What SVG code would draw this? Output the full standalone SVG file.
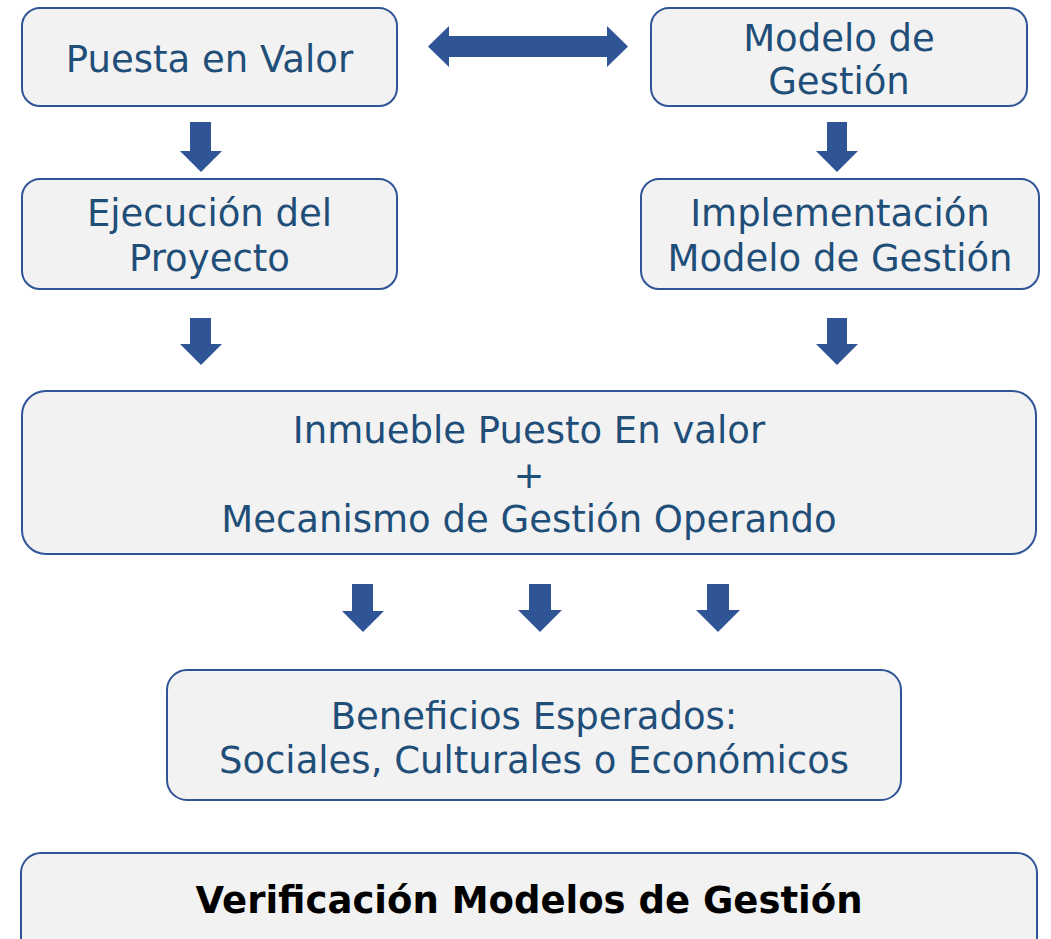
<svg xmlns="http://www.w3.org/2000/svg" width="1051" height="939" viewBox="0 0 1051 939">
<style>
.box{fill:#f2f2f2;stroke:#2f5597;stroke-width:2}
.t{font-family:"DejaVu Sans",Verdana,sans-serif;font-size:37px;fill:#1f4e79;text-anchor:middle}
.b{font-family:"DejaVu Sans",Verdana,sans-serif;font-size:37px;font-weight:bold;fill:#000;text-anchor:middle}
.arr{fill:#2f5597}
</style>
<rect width="1051" height="939" fill="#fff"/>
<g id="puesta-en-valor">
<rect class="box" x="22" y="8" width="375" height="98" rx="18"/>
<text class="t" x="209.5" y="72">Puesta en Valor</text>
</g>
<g id="modelo-de-gestion">
<rect class="box" x="651" y="8" width="376" height="98" rx="18"/>
<text class="t" x="839" y="51">Modelo de</text>
<text class="t" x="839" y="94">Gestión</text>
</g>
<g id="ejecucion">
<rect class="box" x="22" y="179" width="375" height="110" rx="18"/>
<text class="t" x="209.5" y="226">Ejecución del</text>
<text class="t" x="209.5" y="271">Proyecto</text>
</g>
<g id="implementacion">
<rect class="box" x="641" y="179" width="398" height="110" rx="18"/>
<text class="t" x="840" y="226">Implementación</text>
<text class="t" x="840" y="271">Modelo de Gestión</text>
</g>
<g id="inmueble">
<rect class="box" x="22" y="391" width="1014" height="163" rx="24"/>
<text class="t" x="529" y="443">Inmueble Puesto En valor</text>
<text class="t" x="529" y="488">+</text>
<text class="t" x="529" y="532">Mecanismo de Gestión Operando</text>
</g>
<g id="beneficios">
<rect class="box" x="167" y="670" width="734" height="130" rx="20"/>
<text class="t" x="534" y="729">Beneficios Esperados:</text>
<text class="t" x="534" y="773">Sociales, Culturales o Económicos</text>
</g>
<g id="verificacion">
<rect class="box" x="21" y="853" width="1016" height="110" rx="20"/>
<text class="b" x="529" y="913">Verificación Modelos de Gestión</text>
</g>
<g id="connectors">
<polygon class="arr" points="428,46.5 449,26 449,36 607,36 607,26 628,46.5 607,67 607,57 449,57 449,67"/>
<polygon class="arr" points="190,122 211,122 211,151 222,151 201,172 180,151 190,151"/>
<polygon class="arr" points="827,122 847,122 847,151 858,151 837,172 816,151 827,151"/>
<polygon class="arr" points="190,318 211,318 211,344 222,344 201,365 180,344 190,344"/>
<polygon class="arr" points="827,318 847,318 847,344 858,344 837,365 816,344 827,344"/>
<polygon class="arr" points="352,584 373,584 373,611 384,611 363,632 342,611 352,611"/>
<polygon class="arr" points="529,584 551,584 551,610 562,610 540,632 518,610 529,610"/>
<polygon class="arr" points="707,584 729,584 729,610 740,610 718,632 696,610 707,610"/>
</g>
</svg>
